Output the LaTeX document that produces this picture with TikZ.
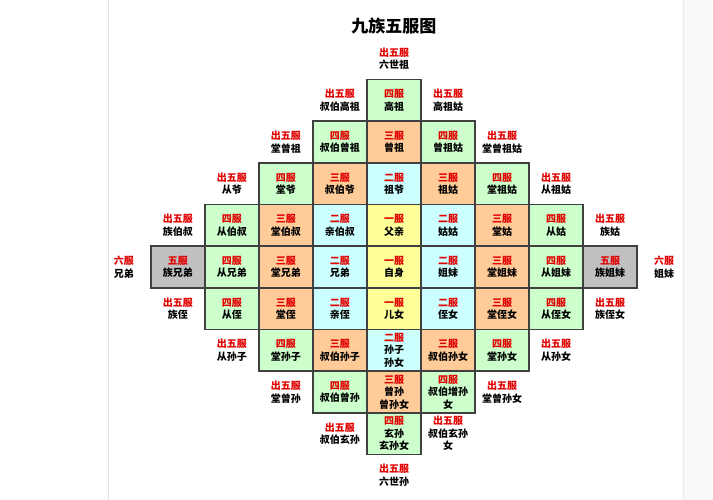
\documentclass[tikz,border=0pt]{standalone}
\usepackage{fontspec}
\newfontfamily\cjk{Noto Sans CJK SC}
\definecolor{fsred}{RGB}{225,0,0}
\definecolor{fsyellow}{HTML}{FFFF99}
\definecolor{fscyan}{HTML}{CCFFFF}
\definecolor{fspeach}{HTML}{FFCC99}
\definecolor{fsgreen}{HTML}{CCFFCC}
\definecolor{fsgray}{HTML}{C0C0C0}
\newcommand\fl[2]{\textcolor{fsred}{#1}\\#2}
\tikzset{
  lab/.style={align=center,inner sep=0pt,font=\cjk\bfseries\fontsize{10bp}{12.5bp}\selectfont},
  cell/.style={lab,draw=black!75,line width=1.4bp,minimum width=54bp,minimum height=41.67bp},
  lvone/.style={cell,fill=fsyellow},
  lvtwo/.style={cell,fill=fscyan},
  lvthree/.style={cell,fill=fspeach},
  lvfour/.style={cell,fill=fsgreen},
  lvfive/.style={cell,fill=fsgray},
}
\begin{document}
\begin{tikzpicture}[x=54bp,y=-41.6667bp]
\useasboundingbox (-394bp,267bp) rectangle (319bp,-233bp);
\fill[black!2] (289bp,267bp) rectangle (319bp,-233bp);
\draw[black!12,line width=0.8bp] (-286bp,267bp) -- (-286bp,-233bp);
\draw[black!8,line width=0.8bp] (289bp,267bp) -- (289bp,-233bp);
\node[font=\cjk\bfseries\fontsize{17bp}{20bp}\selectfont] (title) at (0bp,241bp) {九族五服图};
% row -5
\node[lab] (o05) at (0,-5) {\fl{出五服}{六世祖}};
% row -4
\node[lab] (om1m4) at (-1,-4) {\fl{出五服}{叔伯高祖}};
\node[lvfour] (c0m4) at (0,-4) {\fl{四服}{高祖}};
\node[lab] (op1m4) at (1,-4) {\fl{出五服}{高祖姑}};
% row -3
\node[lab] (om2m3) at (-2,-3) {\fl{出五服}{堂曾祖}};
\node[lvfour] (cm1m3) at (-1,-3) {\fl{四服}{叔伯曾祖}};
\node[lvthree] (c0m3) at (0,-3) {\fl{三服}{曾祖}};
\node[lvfour] (cp1m3) at (1,-3) {\fl{四服}{曾祖姑}};
\node[lab] (op2m3) at (2,-3) {\fl{出五服}{堂曾祖姑}};
% row -2
\node[lab] (om3m2) at (-3,-2) {\fl{出五服}{从爷}};
\node[lvfour] (cm2m2) at (-2,-2) {\fl{四服}{堂爷}};
\node[lvthree] (cm1m2) at (-1,-2) {\fl{三服}{叔伯爷}};
\node[lvtwo] (c0m2) at (0,-2) {\fl{二服}{祖爷}};
\node[lvthree] (cp1m2) at (1,-2) {\fl{三服}{祖姑}};
\node[lvfour] (cp2m2) at (2,-2) {\fl{四服}{堂祖姑}};
\node[lab] (op3m2) at (3,-2) {\fl{出五服}{从祖姑}};
% row -1
\node[lab] (om4m1) at (-4,-1) {\fl{出五服}{族伯叔}};
\node[lvfour] (cm3m1) at (-3,-1) {\fl{四服}{从伯叔}};
\node[lvthree] (cm2m1) at (-2,-1) {\fl{三服}{堂伯叔}};
\node[lvtwo] (cm1m1) at (-1,-1) {\fl{二服}{亲伯叔}};
\node[lvone] (c0m1) at (0,-1) {\fl{一服}{父亲}};
\node[lvtwo] (cp1m1) at (1,-1) {\fl{二服}{姑姑}};
\node[lvthree] (cp2m1) at (2,-1) {\fl{三服}{堂姑}};
\node[lvfour] (cp3m1) at (3,-1) {\fl{四服}{从姑}};
\node[lab] (op4m1) at (4,-1) {\fl{出五服}{族姑}};
% row 0
\node[lab] (om50) at (-5,0) {\fl{六服}{兄弟}};
\node[lvfive] (cm40) at (-4,0) {\fl{五服}{族兄弟}};
\node[lvfour] (cm30) at (-3,0) {\fl{四服}{从兄弟}};
\node[lvthree] (cm20) at (-2,0) {\fl{三服}{堂兄弟}};
\node[lvtwo] (cm10) at (-1,0) {\fl{二服}{兄弟}};
\node[lvone] (c00) at (0,0) {\fl{一服}{自身}};
\node[lvtwo] (cp10) at (1,0) {\fl{二服}{姐妹}};
\node[lvthree] (cp20) at (2,0) {\fl{三服}{堂姐妹}};
\node[lvfour] (cp30) at (3,0) {\fl{四服}{从姐妹}};
\node[lvfive] (cp40) at (4,0) {\fl{五服}{族姐妹}};
\node[lab] (op50) at (5,0) {\fl{六服}{姐妹}};
% row 1
\node[lab] (om4p1) at (-4,1) {\fl{出五服}{族侄}};
\node[lvfour] (cm3p1) at (-3,1) {\fl{四服}{从侄}};
\node[lvthree] (cm2p1) at (-2,1) {\fl{三服}{堂侄}};
\node[lvtwo] (cm1p1) at (-1,1) {\fl{二服}{亲侄}};
\node[lvone] (c0p1) at (0,1) {\fl{一服}{儿女}};
\node[lvtwo] (cp1p1) at (1,1) {\fl{二服}{侄女}};
\node[lvthree] (cp2p1) at (2,1) {\fl{三服}{堂侄女}};
\node[lvfour] (cp3p1) at (3,1) {\fl{四服}{从侄女}};
\node[lab] (op4p1) at (4,1) {\fl{出五服}{族侄女}};
% row 2
\node[lab] (om3p2) at (-3,2) {\fl{出五服}{从孙子}};
\node[lvfour] (cm2p2) at (-2,2) {\fl{四服}{堂孙子}};
\node[lvthree] (cm1p2) at (-1,2) {\fl{三服}{叔伯孙子}};
\node[lvtwo] (c0p2) at (0,2) {\fl{二服}{孙子\\孙女}};
\node[lvthree] (cp1p2) at (1,2) {\fl{三服}{叔伯孙女}};
\node[lvfour] (cp2p2) at (2,2) {\fl{四服}{堂孙女}};
\node[lab] (op3p2) at (3,2) {\fl{出五服}{从孙女}};
% row 3
\node[lab] (om2p3) at (-2,3) {\fl{出五服}{堂曾孙}};
\node[lvfour] (cm1p3) at (-1,3) {\fl{四服}{叔伯曾孙}};
\node[lvthree] (c0p3) at (0,3) {\fl{三服}{曾孙\\曾孙女}};
\node[lvfour] (cp1p3) at (1,3) {\fl{四服}{叔伯增孙\\女}};
\node[lab] (op2p3) at (2,3) {\fl{出五服}{堂曾孙女}};
% row 4
\node[lab] (om1p4) at (-1,4) {\fl{出五服}{叔伯玄孙}};
\node[lvfour] (c0p4) at (0,4) {\fl{四服}{玄孙\\玄孙女}};
\node[lab] (op1p4) at (1,4) {\fl{出五服}{叔伯玄孙\\女}};
% row 5
\node[lab] (o0p5) at (0,5) {\fl{出五服}{六世孙}};
\end{tikzpicture}
\end{document}
